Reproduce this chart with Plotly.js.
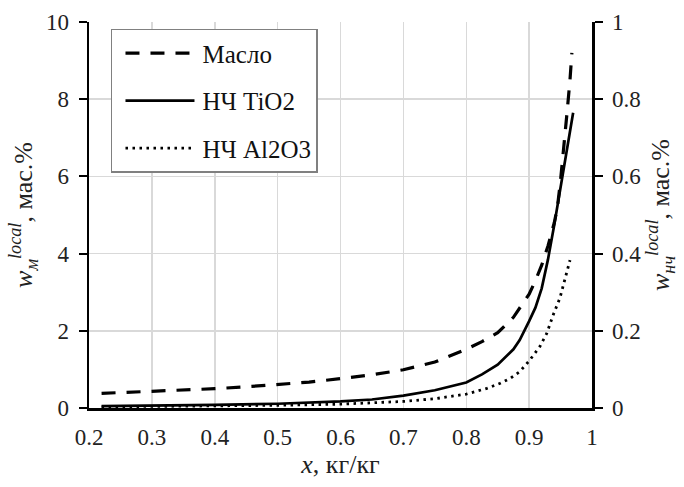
<!DOCTYPE html>
<html>
<head>
<meta charset="utf-8">
<script src="https://cdn.plot.ly/plotly-3.0.1.min.js"></script>
<style>html,body{margin:0;padding:0;background:#fff;}#chart{width:684px;height:487px;}</style>
</head>
<body>
<div id="chart"></div>
<script>
// Масло (left axis, мас.%)
const xOil = [0.22, 0.25, 0.3, 0.35, 0.4, 0.45, 0.5, 0.55, 0.6, 0.65, 0.7, 0.75, 0.8, 0.825, 0.85, 0.875, 0.9, 0.91, 0.92, 0.93, 0.94, 0.945, 0.95, 0.955, 0.96, 0.965, 0.968];
const yOil = [0.38, 0.40, 0.42, 0.46, 0.50, 0.55, 0.61, 0.67, 0.76, 0.86, 0.99, 1.19, 1.52, 1.72, 1.95, 2.35, 2.95, 3.3, 3.7, 4.2, 4.8, 5.2, 5.9, 6.7, 7.6, 8.5, 9.2];
// НЧ TiO2 (right axis, мас.%)
const xTiO2 = [0.22, 0.3, 0.4, 0.5, 0.6, 0.65, 0.7, 0.75, 0.8, 0.825, 0.85, 0.875, 0.885, 0.9, 0.91, 0.92, 0.93, 0.94, 0.95, 0.96, 0.97];
const yTiO2 = [0.005, 0.006, 0.008, 0.011, 0.017, 0.022, 0.032, 0.046, 0.066, 0.087, 0.112, 0.152, 0.176, 0.225, 0.26, 0.31, 0.385, 0.475, 0.57, 0.67, 0.765];
// НЧ Al2O3 (right axis, мас.%)
const xAl2O3 = [0.22, 0.3, 0.4, 0.5, 0.6, 0.65, 0.7, 0.75, 0.8, 0.833, 0.854, 0.87, 0.885, 0.9, 0.917, 0.928, 0.938, 0.949, 0.96, 0.965];
const yAl2O3 = [0.003, 0.004, 0.005, 0.007, 0.010, 0.014, 0.017, 0.024, 0.036, 0.051, 0.064, 0.077, 0.094, 0.122, 0.159, 0.193, 0.24, 0.285, 0.35, 0.383];

const seriesNames = ['Масло', 'НЧ TiO2', 'НЧ Al2O3'];
const xTickVals = [0.2, 0.3, 0.4, 0.5, 0.6, 0.7, 0.8, 0.9, 1];
const xTickText = ['0.2', '0.3', '0.4', '0.5', '0.6', '0.7', '0.8', '0.9', '1'];
const yLeftTicks = [0, 2, 4, 6, 8, 10];
const yRightTicks = [0, 0.2, 0.4, 0.6, 0.8, 1];
const yRightText = ['0', '0.2', '0.4', '0.6', '0.8', '1'];

const FONT = 'Liberation Serif, DejaVu Serif, serif';

const traces = [
  {x: xOil, y: yOil, name: seriesNames[0], type: 'scatter', mode: 'lines', yaxis: 'y',
   legendgroup: 'a', line: {color: '#000', width: 3.2, dash: '14px,11px'}},
  {x: xTiO2, y: yTiO2, name: seriesNames[1], type: 'scatter', mode: 'lines', yaxis: 'y2',
   legendgroup: 'b', line: {color: '#000', width: 2.7}},
  {x: xAl2O3, y: yAl2O3, name: seriesNames[2], type: 'scatter', mode: 'lines', yaxis: 'y2',
   legendgroup: 'c', line: {color: '#000', width: 2.8, dash: '2.5px,4.5px'}}
];

const layout = {
  width: 684, height: 487,
  margin: {l: 89, r: 92, t: 22, b: 79},
  paper_bgcolor: '#fff', plot_bgcolor: '#fff',
  font: {family: FONT, size: 23, color: '#000'},
  showlegend: true,
  legend: {
    x: 0.0437, y: 0.982, xanchor: 'left', yanchor: 'top',
    bgcolor: '#fff', bordercolor: '#808080', borderwidth: 1.5,
    font: {family: FONT, size: 25, color: '#111'},
    traceorder: 'grouped', tracegroupgap: 12, itemwidth: 80,
    entrywidth: 220, entrywidthmode: 'pixels'
  },
  xaxis: {
    range: [0.2, 1], tickvals: xTickVals, ticktext: xTickText,
    showgrid: true, gridcolor: '#d9d9d9', gridwidth: 1.5,
    showline: true, linecolor: '#000', linewidth: 2.5,
    ticks: '', zeroline: false, ticklabelstandoff: 7,
    tickfont: {family: FONT, size: 23, color: '#222'},
    title: {text: '<i>x</i>, кг/кг', font: {family: FONT, size: 26, color: '#222'}, standoff: 4}
  },
  yaxis: {
    range: [0, 10], tickvals: yLeftTicks,
    showgrid: true, gridcolor: '#d9d9d9', gridwidth: 1.5,
    showline: true, linecolor: '#000', linewidth: 2.5,
    ticks: 'outside', ticklen: 8, tickwidth: 2, tickcolor: '#000',
    zeroline: false, ticklabelstandoff: 5,
    tickfont: {family: FONT, size: 23, color: '#222'},
    title: {text: '<i>w</i><sub><i>м</i></sub><sup><i>local</i></sup>, мас.%', font: {family: FONT, size: 26, color: '#222'}, standoff: 6}
  },
  yaxis2: {
    range: [0, 1], tickvals: yRightTicks, ticktext: yRightText,
    overlaying: 'y', side: 'right',
    showgrid: false,
    showline: true, linecolor: '#000', linewidth: 2.5,
    ticks: 'outside', ticklen: 8, tickwidth: 2, tickcolor: '#000',
    zeroline: false, ticklabelstandoff: 5,
    tickfont: {family: FONT, size: 23, color: '#222'},
    title: {text: '<i>w</i><sub><i>нч</i></sub><sup><i>local</i></sup>, мас.%', font: {family: FONT, size: 26, color: '#222'}, standoff: 11}
  }
};

Plotly.newPlot('chart', traces, layout, {displayModeBar: false, staticPlot: true}).then(function () {
  // lengthen the legend line samples to match the reference key
  document.querySelectorAll('#chart .legend .legendlines path').forEach(function (p) {
    p.setAttribute('d', 'M13,0h69');
  });
});
</script>
</body>
</html>
